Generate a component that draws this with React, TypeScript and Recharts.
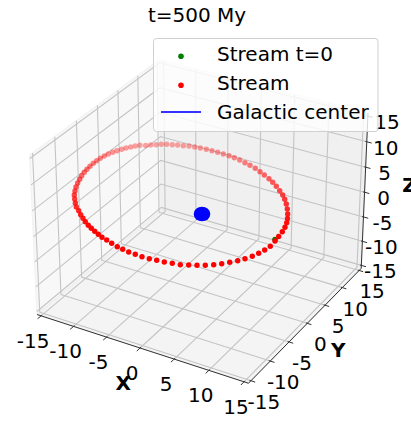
import React from "react";
import { ScatterChart, Scatter, XAxis, YAxis } from "recharts";

const W = 411;
const H = 426;

// tick values on all three axes
const ticks = [-15, -10, -5, 0, 5, 10, 15];
const tickLabels = ["-15", "-10", "-5", "0", "5", "10", "15"];
const LIM = 15.625;

const title = "t=500 My";
const legendNames = ["Stream t=0", "Stream", "Galactic center"];

// Stream positions, in the view plane
const streamViewX = [270.3,264.7,258.7,252.3,245,237.7,229.7,221.7,213.7,205.3,197,188.7,180.3,172.3,164.3,156.7,149.3,142,135.3,128.7,122.7,117.3,111.7,106.7,102,98.3,94.7,91.3,88.3,85.3,83,80.7,78.7,76.3,75.3,74.7,74.3,75,76,77.7,79.7,81.7,84.3,87,90,93.3,96.7,100.3,104.3,108.3,112.7,117,121.7,126,130.7,135.3,140,145.7,150.7,156,161.3,166.7,172.3,177.7,183.3,189,194.7,200.3,206.3,212,217.7,223.3,229,234.3,239.7,245,250,255.3,260,264.3,269,272.7,276.3,279.7,282.7,284.7,286.3,287.3,287.7,287.5,286.7,285,282.3,278.7,275];
const streamViewY = [246.3,250,253.3,256.3,258.7,260.7,262.3,263.8,264.7,265.3,265.3,265,264.7,263.3,262,260.3,258.7,256.7,254.3,252,249.3,246.7,243.3,240,237.3,234.3,231.3,228.3,225.3,221.7,218.3,214.7,210.7,207,203,199,195,191,187,183,179.3,175.7,172.3,169.3,166.3,163.3,160.7,158.3,156,154,152.3,150.7,149.3,148,147,146,145.3,145.5,145,144.7,144.3,144.3,144.7,145,145.7,146,147,148,149.3,150.7,152.3,154,155.7,157.7,160,162.7,165.3,168.3,171.7,175,178.7,182.3,186.3,190.7,195,199.3,204,209,214,218.5,222.7,227.3,231.7,236.5,241];
const startViewX = [275];
const startViewY = [239.5];
const galacticCenter: [number, number, number] = [0, 0, 0];

const rad = Math.PI / 180;
const elev = 30 * rad;
const azim = -60 * rad;
const DIST = 10;
const nrm = Math.hypot(4, 4, 3);
const box = [4, 4, 3].map((v) => (1.8294640721620434 * v) / nrm);
const n = [Math.cos(elev) * Math.cos(azim), Math.cos(elev) * Math.sin(azim), Math.sin(elev)];
const uLen = Math.hypot(n[0], n[1]);
const u = [-n[1] / uLen, n[0] / uLen, 0];
const v = [n[1] * u[2] - n[2] * u[1], n[2] * u[0] - n[0] * u[2], n[0] * u[1] - n[1] * u[0]];
const dot = (a: number[], b: number[]) => a[0] * b[0] + a[1] * b[1] + a[2] * b[2];

function project(x: number, y: number, z: number) {
  const p = [(x / (2 * LIM)) * box[0], (y / (2 * LIM)) * box[1], (z / (2 * LIM)) * box[2]];
  const f = DIST / (DIST - dot(p, n));
  return { x: 202 + 212 * dot(p, u) * f, y: 214 - 212 * dot(p, v) * f };
}
const path = (...pts: number[][]) => pts.map((p) => project(p[0], p[1], p[2]));

const A = [-LIM, -LIM, -LIM], B = [LIM, -LIM, -LIM], C = [LIM, LIM, -LIM], D = [-LIM, LIM, -LIM];
const A2 = [-LIM, -LIM, LIM], C2 = [LIM, LIM, LIM], D2 = [-LIM, LIM, LIM];

const panes = [
  { pts: path(A, D, D2, A2, A), fill: "#f8f8f8", edge: "#f3f3f3" },
  { pts: path(D, C, C2, D2, D), fill: "#f0f0f0", edge: "#efefef" },
  { pts: path(A, B, C, D, A), fill: "#f4f4f4", edge: "#efefef" },
];

const gridLines = ticks.flatMap((t) => [
  path([t, -LIM, -LIM], [t, LIM, -LIM], [t, LIM, LIM]),
  path([-LIM, t, -LIM], [LIM, t, -LIM]),
  path([-LIM, t, -LIM], [-LIM, t, LIM]),
  path([-LIM, -LIM, t], [-LIM, LIM, t], [LIM, LIM, t]),
]);

const axisLines = [path(A, B), path(B, C), path(C, C2)];

const tickMarks = ticks.flatMap((t) => [
  path([t, -LIM + 0.2, -LIM], [t, -LIM - 0.8, -LIM]),
  path([LIM - 0.2, t, -LIM], [LIM + 0.6, t, -LIM]),
  path([LIM - 0.2, LIM, t], [LIM + 0.7, LIM, t]),
]);

const labelRows = ticks.flatMap((t, i) => [
  { ...project(t, -LIM, -LIM), label: tickLabels[i], dx: -8, dy: 25 },
  { ...project(LIM, t, -LIM), label: tickLabels[i], dx: 13, dy: 21 },
  { ...project(LIM, LIM, t), label: tickLabels[i], dx: 19, dy: 6 },
]);
const axisTitles = [
  { ...project(0, -LIM, -LIM), label: "X", dx: -17, dy: 35 },
  { ...project(LIM, 0, -LIM), label: "Y", dx: 31, dy: 27 },
  { ...project(LIM, LIM, 0), label: "Z", dx: 45, dy: -7 },
];

const depthAlpha = (y: number) => Math.max(0.35, Math.min(1, 0.35 + (0.65 * (y - 145)) / 85));
const stream = streamViewX.map((x, i) => ({ x, y: streamViewY[i], alpha: depthAlpha(streamViewY[i]) }));
const start = startViewX.map((x, i) => ({ x, y: startViewY[i] }));
const center = [project(galacticCenter[0], galacticCenter[1], galacticCenter[2])];

const FONT = "'DejaVu Sans', sans-serif";
const none = () => <g />;

export default function App() {
  return (
    <div style={{ position: "absolute", left: 0, top: 0, width: W, height: H, overflow: "hidden", background: "#fff" }}>
      <ScatterChart width={W} height={H} margin={{ top: 0, right: 0, bottom: 0, left: 0 }}>
        <XAxis type="number" dataKey="x" domain={[0, W]} hide allowDataOverflow />
        <YAxis type="number" dataKey="y" domain={[0, H]} reversed hide allowDataOverflow />
        {panes.map((p, i) => (
          <Scatter key={`pane${i}`} data={p.pts} shape={none} isAnimationActive={false}
            line={{ fill: p.fill, stroke: p.edge, strokeWidth: 1.5 }} />
        ))}
        {gridLines.map((g, i) => (
          <Scatter key={`grid${i}`} data={g} shape={none} isAnimationActive={false}
            line={{ fill: "none", stroke: "#c4c4c4", strokeWidth: 1.1 }} />
        ))}
        {axisLines.map((g, i) => (
          <Scatter key={`axis${i}`} data={g} shape={none} isAnimationActive={false}
            line={{ fill: "none", stroke: "#333", strokeWidth: 1 }} />
        ))}
        {tickMarks.map((g, i) => (
          <Scatter key={`tick${i}`} data={g} shape={none} isAnimationActive={false}
            line={{ fill: "none", stroke: "#333", strokeWidth: 1 }} />
        ))}
        <Scatter name={legendNames[0]} data={start} isAnimationActive={false}
          shape={(p: any) => <circle cx={p.cx} cy={p.cy} r={2.8} fill="#008000" />} />
        <Scatter name={legendNames[1]} data={stream} isAnimationActive={false}
          shape={(p: any) => <circle cx={p.cx} cy={p.cy} r={2.7} fill="#ff0000" fillOpacity={p.payload.alpha} />} />
        <Scatter name={legendNames[2]} data={center} isAnimationActive={false}
          shape={(p: any) => <ellipse cx={p.cx} cy={p.cy} rx={8.3} ry={7.3} fill="#0000ff" />} />
        <Scatter data={labelRows} isAnimationActive={false}
          shape={(p: any) => (
            <text x={p.cx + p.payload.dx} y={p.cy + p.payload.dy} textAnchor="middle" dominantBaseline="central"
              fontFamily={FONT} fontSize={20} fill="#000">{p.payload.label}</text>
          )} />
        <Scatter data={axisTitles} isAnimationActive={false}
          shape={(p: any) => (
            <text x={p.cx + p.payload.dx} y={p.cy + p.payload.dy} textAnchor="middle" dominantBaseline="central"
              fontFamily={FONT} fontSize={20} fontWeight="bold" fill="#000">{p.payload.label}</text>
          )} />
      </ScatterChart>
      <svg width={W} height={H} style={{ position: "absolute", left: 0, top: 0, pointerEvents: "none" }}>
        <text x={197} y={22} textAnchor="middle" fontFamily={FONT} fontSize={20} fill="#000">{title}</text>
        <rect x={153.5} y={38.5} width={224.5} height={93} rx={3} fill="#fff" fillOpacity={0.8} stroke="#d0d0d0" strokeWidth={1} />
        <circle cx={181} cy={56.3} r={2.8} fill="#008000" />
        <circle cx={181} cy={85.3} r={2.8} fill="#ff0000" />
        <line x1={161} x2={201} y1={112} y2={112} stroke="#3333ff" strokeWidth={2} />
        {legendNames.map((name, i) => (
          <text key={name} x={217} y={[61, 90, 118.5][i]} fontFamily={FONT} fontSize={20} fill="#000">{name}</text>
        ))}
      </svg>
    </div>
  );
}
